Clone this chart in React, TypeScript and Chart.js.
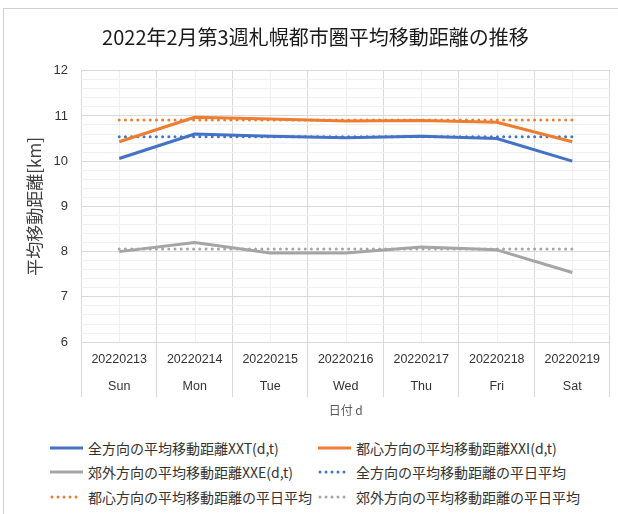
import React, { useEffect, useRef } from "react";
import { Chart, registerables } from "chart.js";

Chart.register(...registerables);

const dates = ["20220213", "20220214", "20220215", "20220216", "20220217", "20220218", "20220219"];
const weekdays = ["Sun", "Mon", "Tue", "Wed", "Thu", "Fri", "Sat"];

const xxtAll = [10.06, 10.6, 10.55, 10.52, 10.55, 10.5, 10.0];
const xxiCenter = [10.43, 10.97, 10.93, 10.89, 10.9, 10.86, 10.43];
const xxeSuburb = [8.0, 8.2, 7.97, 7.97, 8.1, 8.04, 7.54];
const avgAll = [10.54, 10.54, 10.54, 10.54, 10.54, 10.54, 10.54];
const avgCenter = [10.91, 10.91, 10.91, 10.91, 10.91, 10.91, 10.91];
const avgSuburb = [8.06, 8.06, 8.06, 8.06, 8.06, 8.06, 8.06];

const seriesNames = [
  "全方向の平均移動距離XXT(d,t)",
  "都心方向の平均移動距離XXI(d,t)",
  "郊外方向の平均移動距離XXE(d,t)",
  "全方向の平均移動距離の平日平均",
  "都心方向の平均移動距離の平日平均",
  "郊外方向の平均移動距離の平日平均",
];

const titleText = "2022年2月第3週札幌都市圏平均移動距離の推移";
const yTitle = "平均移動距離[km]";
const xTitle = "日付 d";

const BLUE = "#4472C4";
const ORANGE = "#ED7D31";
const GRAY = "#A5A5A5";
const FONT = '"Liberation Sans", "Noto Sans CJK JP", sans-serif';
const CJK = '"Noto Sans CJK JP", "Liberation Sans", sans-serif';

const seriesData = [xxtAll, xxiCenter, xxeSuburb, avgAll, avgCenter, avgSuburb];
const seriesColors = [BLUE, ORANGE, GRAY, BLUE, ORANGE, GRAY];
const seriesDotted = [false, false, false, true, true, true];

const isInt = (v: number) => Math.abs(v - Math.round(v)) < 1e-6;

const minorXGrid = {
  id: "minorXGrid",
  beforeDraw(chart: any) {
    const { ctx, chartArea, scales } = chart;
    const x = scales.x;
    ctx.save();
    ctx.strokeStyle = "#f0f0f0";
    ctx.lineWidth = 1;
    for (let i = 0; i < dates.length; i++) {
      const px = Math.round(x.getPixelForValue(i)) + 0.5;
      ctx.beginPath();
      ctx.moveTo(px, chartArea.top);
      ctx.lineTo(px, chartArea.bottom);
      ctx.stroke();
    }
    ctx.restore();
  },
};

function Legend() {
  const cols = [50, 318];
  const rows = [448, 472, 497];
  return (
    <>
      {seriesNames.map((name, i) => {
        const left = cols[i % 2];
        const top = rows[Math.floor(i / 2)];
        return (
          <div
            key={name}
            style={{
              position: "absolute",
              left,
              top: top - 10,
              height: 20,
              display: "flex",
              alignItems: "center",
              whiteSpace: "nowrap",
              fontFamily: CJK,
              fontSize: 14,
              color: "#333",
            }}
          >
            <svg width={34} height={8} style={{ marginRight: 4 }}>
              {seriesDotted[i] ? (
                <line x1={2} y1={4} x2={32} y2={4} stroke={seriesColors[i]} strokeWidth={3}
                  strokeLinecap="round" strokeDasharray="0 6" />
              ) : (
                <line x1={0} y1={4} x2={33} y2={4} stroke={seriesColors[i]} strokeWidth={3} />
              )}
            </svg>
            <span>{name}</span>
          </div>
        );
      })}
    </>
  );
}

export default function App() {
  const ref = useRef<HTMLCanvasElement | null>(null);

  useEffect(() => {
    if (!ref.current) return;
    const chart = new Chart(ref.current, {
      type: "line",
      data: {
        labels: dates.map((d, i) => [d, weekdays[i]]),
        datasets: seriesNames.map((name, i) => ({
          label: name,
          data: seriesData[i],
          borderColor: seriesColors[i],
          backgroundColor: seriesColors[i],
          borderWidth: 3,
          borderDash: seriesDotted[i] ? [0, 6.2] : [],
          borderCapStyle: seriesDotted[i] ? "round" : "butt",
          borderJoinStyle: "round",
          pointRadius: 0,
          tension: 0,
          fill: false,
        })),
      },
      options: {
        responsive: false,
        animation: false,
        layout: { padding: { left: 16.8, right: 14, top: 0, bottom: 1 } },
        plugins: {
          legend: { display: false },
          tooltip: { enabled: false },
          title: {
            display: true,
            text: titleText,
            color: "#1a1a1a",
            font: { family: CJK, size: 20, weight: "normal", lineHeight: 1.2 },
            padding: { top: 16, bottom: 21.7 },
          },
        },
        scales: {
          x: {
            type: "category",
            offset: true,
            grid: {
              offset: true,
              color: "#d9d9d9",
              tickColor: "#d9d9d9",
              tickLength: 55,
              drawTicks: true,
            },
            border: { display: false },
            ticks: {
              color: "#333",
              font: { family: FONT, size: 12.5, lineHeight: 2.1 },
              padding: -50.4,
              maxRotation: 0,
              autoSkip: false,
            },
            title: {
              display: true,
              text: xTitle,
              color: "#595959",
              font: { family: CJK, size: 12, lineHeight: 1.2 },
              padding: { top: 54.8, bottom: 4 },
            },
          },
          y: {
            min: 6,
            max: 12,
            grid: {
              drawTicks: false,
              color: (c: any) => (c.tick && isInt(c.tick.value) ? "#d9d9d9" : "#f0f0f0"),
            },
            border: { display: false },
            ticks: {
              stepSize: 0.2,
              autoSkip: false,
              padding: 13.5,
              color: "#333",
              font: { family: FONT, size: 13 },
              callback: (v: any) => (isInt(Number(v)) ? String(Math.round(Number(v))) : ""),
            },
            title: {
              display: true,
              text: yTitle,
              color: "#404040",
              font: { family: CJK, size: 17, lineHeight: 1.2 },
              padding: { top: 4, bottom: -5.2 },
            },
          },
        },
      },
      plugins: [minorXGrid],
    });
    return () => chart.destroy();
  }, []);

  return (
    <div style={{ position: "absolute", left: 0, top: 0, width: 618, height: 514, overflow: "hidden", background: "#fff" }}>
      <div
        style={{
          position: "absolute",
          left: 3,
          top: 8,
          width: 640,
          height: 600,
          border: "1px solid #d0d0d0",
          boxSizing: "border-box",
        }}
      >
        <canvas ref={ref} width={620} height={414} style={{ position: "absolute", left: 0, top: 0 }} />
      </div>
      <Legend />
    </div>
  );
}
